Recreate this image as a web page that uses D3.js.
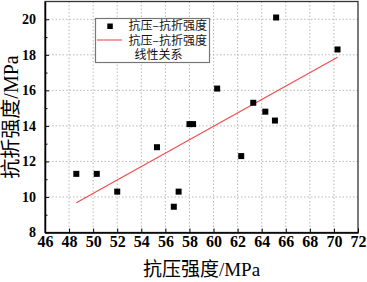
<!DOCTYPE html>
<html>
<head>
<meta charset="utf-8">
<script src="https://cdn.jsdelivr.net/npm/d3@7"></script>
<style>
  body { margin: 0; background: #fff; }
  svg { display: block; }
</style>
</head>
<body>
<div id="chart"></div>
<script>
// Data.
const compressive = [48.6, 50.3, 52.0, 55.3, 56.7, 57.1, 58.0, 58.3, 60.3, 62.3, 63.3, 64.3, 65.1, 65.2, 70.3];
const flexural = [11.3, 11.3, 10.3, 12.8, 9.45, 10.3, 14.1, 14.1, 16.1, 12.3, 15.3, 14.8, 14.3, 20.1, 18.3];
// Endpoints of the linear fit line.
const fitX = [48.6, 70.3];
const fitY = [9.67, 17.86];
const xTicks = [46, 48, 50, 52, 54, 56, 58, 60, 62, 64, 66, 68, 70, 72];
const yTicks = [8, 10, 12, 14, 16, 18, 20];
const yMinorTicks = [9, 11, 13, 15, 17, 19];
const seriesName = '抗压–抗折强度';
const fitName = ['抗压–抗折强度', '线性关系'];
const xTitle = '抗压强度/MPa';
const yTitle = '抗折强度/MPa';

const W = 367, H = 282;
const margin = {top: 1.5, right: 9, bottom: 49.5, left: 45};
const width = W - margin.left - margin.right;
const height = H - margin.top - margin.bottom;

const svg = d3.select('#chart')
    .append('svg')
        .attr('width', W)
        .attr('height', H)
        .attr('viewBox', `0 0 ${W} ${H}`);
const g = svg.append('g')
    .attr('transform', `translate(${margin.left},${margin.top})`);

const x = d3.scaleLinear().domain([46, 72]).range([0, width]);
const y = d3.scaleLinear().domain([8, 21]).range([height, 0]);

// Dotted grid lines.
g.append('g')
    .selectAll('line')
    .data(xTicks.filter(t => t > 46 && t < 72))
    .enter()
    .append('line')
        .attr('x1', d => x(d)).attr('x2', d => x(d))
        .attr('y1', 0).attr('y2', height)
        .attr('stroke', '#b8b8b8')
        .attr('stroke-width', 1)
        .attr('stroke-dasharray', '1.5,2');
g.append('g')
    .selectAll('line')
    .data(yTicks.filter(t => t > 8))
    .enter()
    .append('line')
        .attr('x1', 0).attr('x2', width)
        .attr('y1', d => y(d)).attr('y2', d => y(d))
        .attr('stroke', '#b8b8b8')
        .attr('stroke-width', 1)
        .attr('stroke-dasharray', '1.5,2');

// Frame.
g.append('rect')
    .attr('x', 0).attr('y', 0)
    .attr('width', width).attr('height', height)
    .attr('fill', 'none')
    .attr('stroke', '#333')
    .attr('stroke-width', 1.3);

// X axis.
const xAxis = g.append('g')
    .attr('transform', `translate(0,${height})`)
    .call(d3.axisBottom(x).tickValues(xTicks).tickSizeInner(-4).tickSizeOuter(0).tickPadding(3));
xAxis.selectAll('text')
    .style('font-family', '"Liberation Serif", "Times New Roman", serif')
    .style('font-weight', 'bold')
    .style('font-size', '16px')
    .attr('fill', '#000');

// Y axis.
const yAxis = g.append('g')
    .call(d3.axisLeft(y).tickValues(yTicks).tickSizeInner(-4).tickSizeOuter(0).tickPadding(9));
yAxis.selectAll('text')
    .style('font-family', '"Liberation Serif", "Times New Roman", serif')
    .style('font-weight', 'bold')
    .style('font-size', '14px')
    .attr('fill', '#000');
g.append('g')
    .call(d3.axisLeft(y).tickValues(yMinorTicks).tickSizeInner(-2.5).tickSizeOuter(0).tickFormat(''))
    .select('.domain').remove();
[xAxis, yAxis].forEach(a => {
    a.select('.domain').attr('stroke', '#000').attr('stroke-width', 1.5);
    a.selectAll('.tick line').attr('stroke', '#000');
});

// Fit line.
const fit = fitX.map((v, i) => [v, fitY[i]]);
g.append('path')
    .datum(fit)
    .attr('d', d3.line().x(d => x(d[0])).y(d => y(d[1])))
    .attr('fill', 'none')
    .attr('stroke', '#f24a4a')
    .attr('stroke-width', 1.1);

// Points.
const msize = 6;
g.append('g')
    .selectAll('rect')
    .data(compressive.map((v, i) => [v, flexural[i]]))
    .enter()
    .append('rect')
        .attr('x', d => x(d[0]) - msize / 2)
        .attr('y', d => y(d[1]) - msize / 2)
        .attr('width', msize)
        .attr('height', msize)
        .attr('fill', '#000');

// Legend.
const cjk = '"Noto Sans CJK SC", "Noto Sans", sans-serif';
const legend = svg.append('g');
legend.append('rect')
    .attr('x', 95.5).attr('y', 18.5)
    .attr('width', 114).attr('height', 44)
    .attr('fill', '#fff')
    .attr('stroke', '#777')
    .attr('stroke-width', 1.2);
legend.append('rect')
    .attr('x', 107.3).attr('y', 23.5)
    .attr('width', 5.5).attr('height', 5.5)
    .attr('fill', '#000');
legend.append('line')
    .attr('x1', 97).attr('x2', 122)
    .attr('y1', 40).attr('y2', 40)
    .attr('stroke', '#f24a4a')
    .attr('stroke-width', 1.1);
const legendText = [
    {t: seriesName, x: 128.5, y: 26},
    {t: fitName[0], x: 128.5, y: 41},
    {t: fitName[1], x: 134.5, y: 54.5}
];
legend.selectAll('text.lg')
    .data(legendText)
    .enter()
    .append('text')
        .attr('class', 'lg')
        .attr('x', d => d.x)
        .attr('y', d => d.y)
        .attr('dy', '0.36em')
        .style('font-family', cjk)
        .style('font-size', '12px')
        .attr('fill', '#111')
        .text(d => d.t);

// Axis titles.
svg.append('text')
    .attr('x', margin.left + width / 2)
    .attr('y', 276)
    .attr('text-anchor', 'middle')
    .style('font-family', '"Liberation Serif", ' + cjk)
    .style('font-size', '19px')
    .attr('fill', '#000')
    .text(xTitle);
svg.append('text')
    .attr('transform', `translate(18,${margin.top + height / 2}) rotate(-90)`)
    .attr('text-anchor', 'middle')
    .style('font-family', '"Liberation Serif", ' + cjk)
    .style('font-size', '20px')
    .attr('fill', '#000')
    .text(yTitle);
</script>
</body>
</html>
